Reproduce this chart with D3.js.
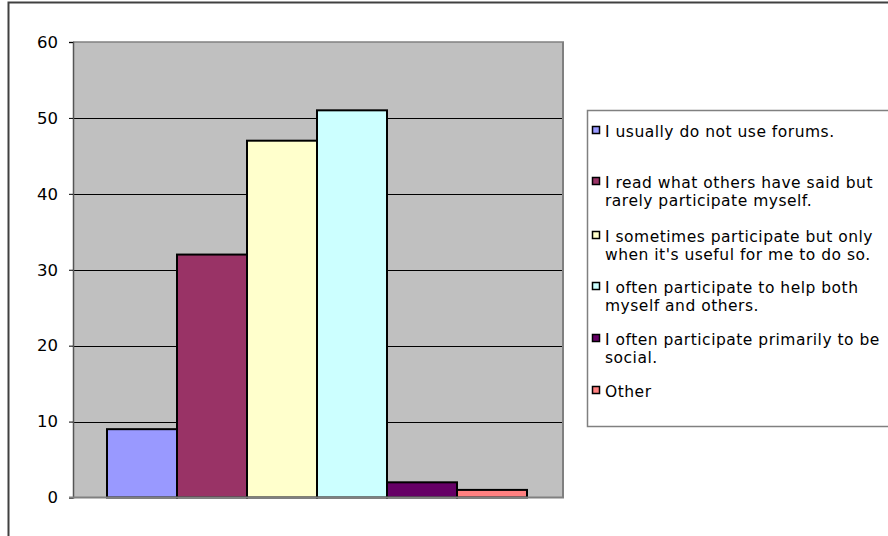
<!DOCTYPE html>
<html>
<head>
<meta charset="utf-8">
<script src="https://cdn.jsdelivr.net/npm/d3@7"></script>
<style>
  html, body { margin: 0; padding: 0; background: #fff; }
  svg { display: block; }
  text { font-family: "DejaVu Sans", Verdana, sans-serif; fill: #000; }
</style>
</head>
<body>
<svg id="chart" width="888" height="536"></svg>
<script>
// Survey responses: how people use forums
const categories = [
  "I usually do not use forums.",
  "I read what others have said but rarely participate myself.",
  "I sometimes participate but only when it's useful for me to do so.",
  "I often participate to help both myself and others.",
  "I often participate primarily to be social.",
  "Other"
];
const legendLines = [
  ["I usually do not use forums."],
  ["I read what others have said but", "rarely participate myself."],
  ["I sometimes participate but only", "when it's useful for me to do so."],
  ["I often participate to help both", "myself and others."],
  ["I often participate primarily to be", "social."],
  ["Other"]
];
const values = [9, 32, 47, 51, 2, 1];
const colors = ["#9999FF", "#993366", "#FFFFCC", "#CCFFFF", "#660066", "#FF8080"];
const yTicks = [0, 10, 20, 30, 40, 50, 60];

const svg = d3.select("#chart");

// outer chart frame (runs off the right and bottom edges)
svg.append("rect")
  .attr("x", 8.5).attr("y", 2.5)
  .attr("width", 900).attr("height", 560)
  .attr("fill", "#fff").attr("stroke", "#404040").attr("stroke-width", 2);

const plot = { left: 73, right: 563, top: 42, bottom: 497.5 };

const y = d3.scaleLinear().domain([0, 60]).range([plot.bottom, plot.top]);
const x = d3.scaleBand().domain(categories)
  .range([plot.left, plot.right]).paddingInner(0).paddingOuter(0.5);

// plot background
svg.append("rect")
  .attr("x", plot.left).attr("y", plot.top)
  .attr("width", plot.right - plot.left).attr("height", plot.bottom - plot.top)
  .attr("fill", "#C0C0C0");

// gridlines
svg.append("g").selectAll("line")
  .data(yTicks.filter(t => t > 0 && t < 60))
  .join("line")
  .attr("x1", plot.left).attr("x2", plot.right)
  .attr("y1", d => Math.round(y(d)) + 0.5).attr("y2", d => Math.round(y(d)) + 0.5)
  .attr("stroke", "#000").attr("stroke-width", 1);

// plot frame: top and right
svg.append("line")
  .attr("x1", plot.left).attr("x2", plot.right + 1)
  .attr("y1", plot.top).attr("y2", plot.top)
  .attr("stroke", "#808080").attr("stroke-width", 1.5);
svg.append("line")
  .attr("x1", plot.right).attr("x2", plot.right)
  .attr("y1", plot.top).attr("y2", plot.bottom)
  .attr("stroke", "#808080").attr("stroke-width", 2);

// bars
svg.append("g").selectAll("rect")
  .data(values)
  .join("rect")
  .attr("x", (d, i) => x(categories[i]) - 1)
  .attr("y", d => y(d))
  .attr("width", x.bandwidth())
  .attr("height", d => y(0) - y(d))
  .attr("fill", (d, i) => colors[i])
  .attr("stroke", "#000").attr("stroke-width", 2);

// y axis
const yAxis = d3.axisLeft(y).tickValues(yTicks).tickSize(4).tickPadding(11)
  .tickFormat(d3.format("d"));
const gy = svg.append("g").attr("transform", `translate(${plot.left},0)`).call(yAxis);
gy.select(".domain").attr("stroke", "#555").attr("stroke-width", 1.5);
gy.selectAll(".tick line").attr("stroke", "#000");
gy.selectAll(".tick text")
  .style("font-family", "'DejaVu Sans', sans-serif")
  .style("font-size", "16.5px").attr("fill", "#000");

// x axis baseline
svg.append("line")
  .attr("x1", plot.left - 4).attr("x2", plot.right + 1)
  .attr("y1", y(0)).attr("y2", y(0))
  .attr("stroke", "#808080").attr("stroke-width", 2);

// legend
const legend = { left: 587.5, top: 110.5, bottom: 426.5 };
svg.append("rect")
  .attr("x", legend.left).attr("y", legend.top)
  .attr("width", 320).attr("height", legend.bottom - legend.top)
  .attr("fill", "#fff").attr("stroke", "#808080").attr("stroke-width", 1.5);

const itemY = [131, 182, 236, 287, 339, 391];
const lineH = 18.5;
const items = svg.append("g").selectAll("g")
  .data(legendLines)
  .join("g")
  .attr("transform", (d, i) => `translate(0,${itemY[i]})`);

items.append("rect")
  .attr("x", 592.5).attr("y", -4.5)
  .attr("width", 7).attr("height", 7)
  .attr("fill", (d, i) => colors[i])
  .attr("stroke", "#000").attr("stroke-width", 1.5);

items.append("text")
  .style("font-size", "15.5px")
  .style("letter-spacing", "0.5px")
  .selectAll("tspan")
  .data(d => d)
  .join("tspan")
  .attr("x", 605)
  .attr("y", (d, j) => j * lineH)
  .attr("dy", "0.36em")
  .text(d => d);
</script>
</body>
</html>
